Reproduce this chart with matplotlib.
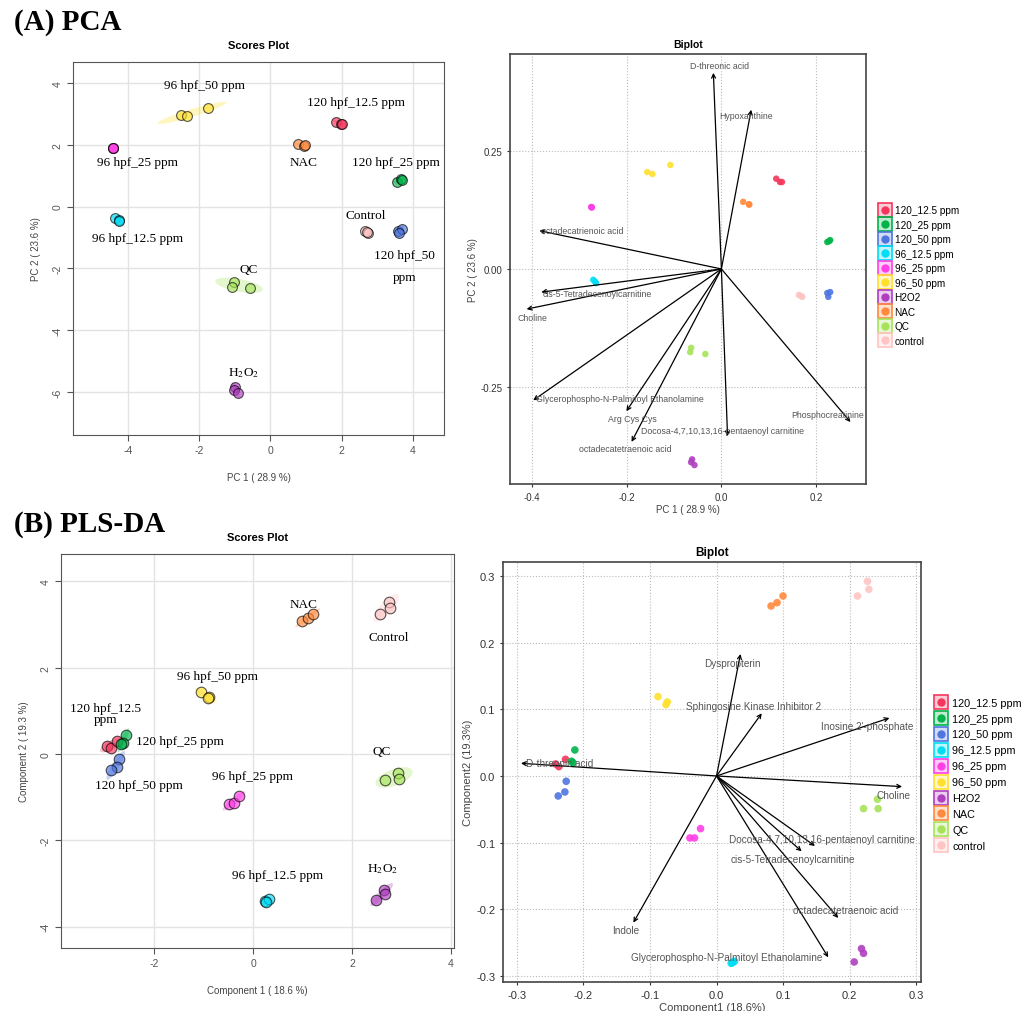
import numpy as np
import matplotlib.pyplot as plt
from matplotlib.patches import Ellipse
from matplotlib.lines import Line2D
from matplotlib.legend_handler import HandlerTuple

plt.rcParams['font.family'] = ['Liberation Sans', 'DejaVu Sans']
plt.rcParams['mathtext.fontset'] = 'stix'
plt.rcParams['axes.unicode_minus'] = False

groups = ['120_12.5 ppm', '120_25 ppm', '120_50 ppm', '96_12.5 ppm', '96_25 ppm',
          '96_50 ppm', 'H2O2', 'NAC', 'QC', 'control']
colors = ['#F5365C', '#00B44A', '#4F75E0', '#00DDF5', '#FF3FE6',
          '#FFE02E', '#B03FC0', '#FF8A3D', '#A6E35A', '#FFC4C4']

# PCA scores
pca_pc1 = [[1.85, 1.97, 2.02], [3.55, 3.67, 3.70], [3.58, 3.69, 3.61], [-4.37, -4.24, -4.26],
           [-4.43, -4.42, -4.41], [-2.51, -2.35, -1.74], [-0.99, -1.01, -0.92],
           [0.76, 0.94, 0.96], [-1.01, -1.07, -0.56], [2.65, 2.74, 2.72]]
pca_pc2 = [[2.75, 2.67, 2.67], [0.81, 0.89, 0.86], [-0.79, -0.71, -0.84], [-0.36, -0.44, -0.47],
           [1.89, 1.90, 1.88], [2.97, 2.92, 3.20], [-5.83, -5.94, -6.03],
           [2.04, 1.97, 1.99], [-2.43, -2.59, -2.62], [-0.79, -0.86, -0.83]]
pca_labels = ['96 hpf_50 ppm', '120 hpf_12.5 ppm', '96 hpf_25 ppm', 'NAC', '120 hpf_25 ppm',
              'Control', '96 hpf_12.5 ppm', 'QC', '120 hpf_50\n\nppm', 'H$_2$O$_2$']
pca_label_x = [-1.86, 2.41, -3.73, 0.94, 3.52, 2.67, -3.73, -0.62, 3.75, -0.74]
pca_label_y = [3.93, 3.37, 1.45, 1.45, 1.45, -0.27, -1.03, -2.01, -1.92, -5.36]

# PCA biplot (scaled scores + loadings)
pcab_x = [[0.116, 0.124, 0.128], [0.224, 0.230, 0.228], [0.224, 0.230, 0.226],
          [-0.271, -0.265, -0.267], [-0.275, -0.275, -0.274], [-0.157, -0.146, -0.108],
          [-0.062, -0.064, -0.057], [0.046, 0.059, 0.058], [-0.064, -0.066, -0.034],
          [0.164, 0.171, 0.168]]
pcab_y = [[0.191, 0.184, 0.184], [0.057, 0.061, 0.059], [-0.051, -0.049, -0.059],
          [-0.023, -0.030, -0.027], [0.131, 0.131, 0.130], [0.205, 0.201, 0.220],
          [-0.403, -0.409, -0.415], [0.142, 0.136, 0.137], [-0.167, -0.176, -0.180],
          [-0.055, -0.059, -0.057]]
pca_load_names = ['D-threonic acid', 'Hypoxanthine', 'octadecatrienoic acid',
                  'cis-5-Tetradecenoylcarnitine', 'Choline',
                  'Glycerophospho-N-Palmitoyl Ethanolamine', 'Arg Cys Cys',
                  'octadecatetraenoic acid', 'Docosa-4,7,10,13,16-pentaenoyl carnitine',
                  'Phosphocreatinine']
pca_load_x = [-0.017, 0.063, -0.385, -0.381, -0.412, -0.398, -0.201, -0.190, 0.013, 0.273]
pca_load_y = [0.415, 0.337, 0.081, -0.049, -0.085, -0.278, -0.301, -0.366, -0.354, -0.324]
pca_name_x = [-0.004, 0.053, -0.294, -0.262, -0.400, -0.214, -0.188, -0.203, 0.002, 0.224]
pca_name_y = [0.430, 0.324, 0.081, -0.051, -0.102, -0.275, -0.316, -0.381, -0.341, -0.309]

# PLS-DA scores
pls_c1 = [[-2.95, -2.86, -2.75], [-2.57, -2.63, -2.66], [-2.71, -2.75, -2.86],
          [0.25, 0.32, 0.27], [-0.48, -0.38, -0.29], [-1.06, -0.89, -0.91],
          [2.49, 2.65, 2.66], [1.00, 1.11, 1.21], [2.67, 2.93, 2.95], [2.57, 2.74, 2.77]]
pls_c2 = [[0.19, 0.15, 0.29], [0.45, 0.26, 0.24], [-0.11, -0.30, -0.38],
          [-3.40, -3.36, -3.43], [-1.15, -1.13, -0.98], [1.43, 1.33, 1.29],
          [-3.37, -3.15, -3.24], [3.07, 3.15, 3.25], [-0.61, -0.43, -0.59], [3.25, 3.52, 3.38]]
pls_labels = ['NAC', 'Control', '96 hpf_50 ppm', '120 hpf_12.5\nppm', '120 hpf_25 ppm',
              '120 hpf_50 ppm', '96 hpf_25 ppm', '96 hpf_12.5 ppm', 'QC', 'H$_2$O$_2$']
pls_label_x = [1.03, 2.74, -0.72, -2.98, -1.47, -2.30, -0.02, 0.49, 2.61, 2.61]
pls_label_y = [3.47, 2.70, 1.80, 0.93, 0.29, -0.71, -0.51, -2.81, 0.06, -2.64]

# PLS-DA biplot
plsb_x = [[-0.242, -0.237, -0.227], [-0.213, -0.218, -0.216], [-0.226, -0.228, -0.238],
          [0.022, 0.027, 0.024], [-0.040, -0.033, -0.024], [-0.088, -0.074, -0.076],
          [0.207, 0.218, 0.221], [0.082, 0.091, 0.100], [0.221, 0.242, 0.243],
          [0.212, 0.227, 0.229]]
plsb_y = [[0.018, 0.014, 0.025], [0.039, 0.022, 0.020], [-0.008, -0.024, -0.030],
          [-0.281, -0.278, -0.280], [-0.093, -0.093, -0.079], [0.119, 0.111, 0.107],
          [-0.279, -0.259, -0.266], [0.255, 0.260, 0.270], [-0.049, -0.035, -0.049],
          [0.270, 0.292, 0.280]]
pls_load_names = ['Dyspropterin', 'Sphingosine Kinase Inhibitor 2', "Inosine 2'-phosphate",
                  'D-threonic acid', 'Choline', 'Docosa-4,7,10,13,16-pentaenoyl carnitine',
                  'cis-5-Tetradecenoylcarnitine', 'octadecatetraenoic acid', 'Indole',
                  'Glycerophospho-N-Palmitoyl Ethanolamine']
pls_load_x = [0.036, 0.068, 0.260, -0.294, 0.279, 0.148, 0.128, 0.183, -0.125, 0.168]
pls_load_y = [0.183, 0.094, 0.087, 0.019, -0.016, -0.105, -0.113, -0.213, -0.220, -0.272]
pls_name_x = [0.024, 0.055, 0.227, -0.236, 0.266, 0.159, 0.115, 0.194, -0.136, 0.015]
pls_name_y = [0.170, 0.105, 0.075, 0.019, -0.028, -0.094, -0.124, -0.201, -0.231, -0.272]


def ellipse(ax, x, y, color, k=2.4, min_w=0.1):
    x, y = np.asarray(x), np.asarray(y)
    vals, vecs = np.linalg.eigh(np.cov(x, y))
    ang = np.degrees(np.arctan2(vecs[1, -1], vecs[0, -1]))
    w = max(2 * k * np.sqrt(max(vals[-1], 0)), min_w)
    h = max(2 * k * np.sqrt(max(vals[0], 0)), min_w)
    ax.add_patch(Ellipse((x.mean(), y.mean()), w, h, angle=ang, facecolor=color,
                         alpha=0.3, edgecolor='none', zorder=1))


def scores_plot(ax, xs, ys, labels, lx, ly, xlim, ylim, xticks, yticks, xlabel, ylabel, s):
    for x, y, c in zip(xs, ys, colors):
        ellipse(ax, x, y, c)
        ax.scatter(x, y, s=s, color=c, alpha=0.65, edgecolors='black', linewidths=0.8, zorder=3)
    for t, x, y in zip(labels, lx, ly):
        ax.text(x, y, t, ha='center', va='center', fontsize=9.5, family='Liberation Serif',
                linespacing=0.9, zorder=4)
    ax.set_xlim(xlim)
    ax.set_ylim(ylim)
    ax.set_xticks(xticks)
    ax.set_yticks(yticks)
    ax.grid(True, color='#e3e3e3', lw=1)
    ax.set_axisbelow(True)
    for sp in ax.spines.values():
        sp.set_color('#555555')
    ax.tick_params(colors='#555555', labelsize=7.5, length=4)
    ax.tick_params(axis='y', labelrotation=90)
    for lab in ax.get_yticklabels():
        lab.set_va('center')
    ax.set_title('Scores Plot', fontsize=8, fontweight='bold', pad=10)
    ax.set_xlabel(xlabel, fontsize=7, color='#444444', labelpad=12)
    ax.set_ylabel(ylabel, fontsize=7, color='#444444', labelpad=8)


def biplot(ax, xs, ys, lnx, lny, names, nx, ny, xlim, ylim, xticks, yticks, ticklabs,
           xlabel, ylabel, s, fs, lab_fs):
    for x, y, c in zip(xs, ys, colors):
        ax.scatter(x, y, s=s, color=c, alpha=0.9, edgecolors='none', zorder=3)
    for ex, ey in zip(lnx, lny):
        ax.annotate('', xy=(ex, ey), xytext=(0, 0), zorder=4,
                    arrowprops=dict(arrowstyle='->', lw=0.9, color='black',
                                    shrinkA=0, shrinkB=0, mutation_scale=7))
    for t, x, y in zip(names, nx, ny):
        ax.text(x, y, t, ha='center', va='center', fontsize=fs, color='#555555', zorder=5)
    ax.set_xlim(xlim)
    ax.set_ylim(ylim)
    ax.set_xticks(xticks, ticklabs[0])
    ax.set_yticks(yticks, ticklabs[1])
    ax.grid(True, color='#bbbbbb', lw=0.8, ls=':')
    ax.set_axisbelow(True)
    for sp in ax.spines.values():
        sp.set_color('#444444')
        sp.set_linewidth(1.2)
    ax.tick_params(colors='#333333', labelsize=lab_fs, length=2)
    ax.set_title('Biplot', fontsize=lab_fs + 0.5, fontweight='bold', pad=5)
    ax.set_xlabel(xlabel, fontsize=lab_fs, color='#444444', labelpad=2)
    ax.set_ylabel(ylabel, fontsize=lab_fs, color='#444444', labelpad=2)


def add_legend(fig, anchor, fs, spacing):
    handles = [(Line2D([], [], ls='none', marker='s', markersize=10, markerfacecolor=c + '40',
                       markeredgecolor=c, markeredgewidth=1.2),
                Line2D([], [], ls='none', marker='o', markersize=5, color=c))
               for c in colors]
    fig.legend(handles, groups, handler_map={tuple: HandlerTuple(ndivide=1, pad=0)},
               loc='upper left', bbox_to_anchor=anchor, frameon=False, fontsize=fs,
               labelspacing=spacing, handlelength=1.0, handletextpad=0.5, borderaxespad=0)


fig = plt.figure(figsize=(10.35, 10.12), dpi=100)

ax1 = fig.add_axes([0.0705, 0.5692, 0.3585, 0.3686])
scores_plot(ax1, pca_pc1, pca_pc2, pca_labels, pca_label_x, pca_label_y,
            (-5.54, 4.87), (-7.39, 4.68), [-4, -2, 0, 2, 4], [-6, -4, -2, 0, 2, 4],
            'PC 1 ( 28.9 %)', 'PC 2 ( 23.6 %)', 50)

pca_ticks_x = [-0.4, -0.2, 0.0, 0.2]
pca_ticks_y = [-0.25, 0.0, 0.25]
ax2 = fig.add_axes([0.4928, 0.5208, 0.3440, 0.4249])
biplot(ax2, pcab_x, pcab_y, pca_load_x, pca_load_y, pca_load_names, pca_name_x, pca_name_y,
       (-0.447, 0.306), (-0.455, 0.455), pca_ticks_x, pca_ticks_y,
       (['{:.1f}'.format(v) for v in pca_ticks_x], ['{:.2f}'.format(v) for v in pca_ticks_y]),
       'PC 1 ( 28.9 %)', 'PC 2 ( 23.6 %)', 22, 6.3, 7)

ax3 = fig.add_axes([0.0589, 0.0623, 0.3797, 0.3893])
scores_plot(ax3, pls_c1, pls_c2, pls_labels, pls_label_x, pls_label_y,
            (-3.88, 4.06), (-4.49, 4.63), [-2, 0, 2, 4], [-4, -2, 0, 2, 4],
            'Component 1 ( 18.6 %)', 'Component 2 ( 19.3 %)', 58)

pls_ticks = [-0.3, -0.2, -0.1, 0.0, 0.1, 0.2, 0.3]
ax4 = fig.add_axes([0.4860, 0.0287, 0.4039, 0.4150])
biplot(ax4, plsb_x, plsb_y, pls_load_x, pls_load_y, pls_load_names, pls_name_x, pls_name_y,
       (-0.321, 0.3075), (-0.309, 0.321), pls_ticks, pls_ticks,
       (['{:.1f}'.format(v) for v in pls_ticks], ['{:.1f}'.format(v) for v in pls_ticks]),
       'Component1 (18.6%)', 'Component2 (19.3%)', 30, 7.2, 8)

add_legend(fig, (0.846, 0.800), 7.2, 0.45)
add_legend(fig, (0.900, 0.314), 7.8, 0.55)

fig.text(0.014, 0.978, '(A) PCA', fontsize=21, fontweight='bold', family='Liberation Serif',
         va='center')
fig.text(0.014, 0.482, '(B) PLS-DA', fontsize=21, fontweight='bold', family='Liberation Serif',
         va='center')

fig.savefig('out.png', dpi=100)
